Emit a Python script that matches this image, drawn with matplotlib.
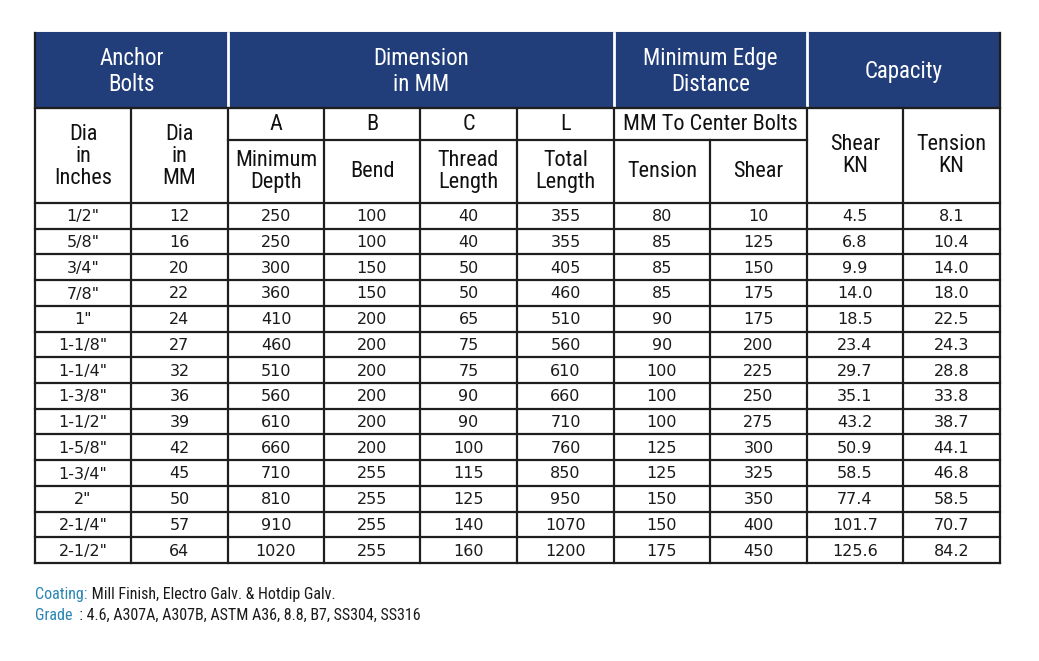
import matplotlib
matplotlib.use("Agg")
import matplotlib.pyplot as plt
from matplotlib.patches import Rectangle
from matplotlib import font_manager

# ---------------- data ----------------
dia_inches = ['1/2"', '5/8"', '3/4"', '7/8"', '1"', '1-1/8"', '1-1/4"', '1-3/8"',
              '1-1/2"', '1-5/8"', '1-3/4"', '2"', '2-1/4"', '2-1/2"']
dia_mm = [12, 16, 20, 22, 24, 27, 32, 36, 39, 42, 45, 50, 57, 64]
min_depth = [250, 250, 300, 360, 410, 460, 510, 560, 610, 660, 710, 810, 910, 1020]
bend = [100, 100, 150, 150, 200, 200, 200, 200, 200, 200, 255, 255, 255, 255]
thread_length = [40, 40, 50, 50, 65, 75, 75, 90, 90, 100, 115, 125, 140, 160]
total_length = [355, 355, 405, 460, 510, 560, 610, 660, 710, 760, 850, 950, 1070, 1200]
edge_tension = [80, 85, 85, 85, 90, 90, 100, 100, 100, 125, 125, 150, 150, 175]
edge_shear = [10, 125, 150, 175, 175, 200, 225, 250, 275, 300, 325, 350, 400, 450]
shear_kn = ["4.5", "6.8", "9.9", "14.0", "18.5", "23.4", "29.7", "35.1", "43.2",
            "50.9", "58.5", "77.4", "101.7", "125.6"]
tension_kn = ["8.1", "10.4", "14.0", "18.0", "22.5", "24.3", "28.8", "33.8", "38.7",
              "44.1", "46.8", "58.5", "70.7", "84.2"]

group_headers = ["Anchor\nBolts", "Dimension\nin MM", "Minimum Edge\nDistance", "Capacity"]
sub_letters = ["A", "B", "C", "L"]
sub_names = ["Minimum\nDepth", "Bend", "Thread\nLength", "Total\nLength"]
coating_label, coating_text = "Coating:", " Mill Finish, Electro Galv. & Hotdip Galv."
grade_label, grade_text = "Grade", "  : 4.6, A307A, A307B, ASTM A36, 8.8, B7, SS304, SS316"

# ---------------- fonts ----------------
avail = {f.name for f in font_manager.fontManager.ttflist}
cond = [f for f in ["Liberation Sans Narrow", "Roboto Condensed", "DejaVu Sans"] if f in avail]
if not cond:
    cond = ["DejaVu Sans"]
numfont = [f for f in ["DejaVu Sans", "Noto Sans"] if f in avail] or ["DejaVu Sans"]

W, H = 1039, 661
fig = plt.figure(figsize=(W / 100, H / 100), dpi=100)
ax = fig.add_axes([0, 0, 1, 1])
ax.set_xlim(0, W)
ax.set_ylim(H, 0)
ax.axis("off")

navy = "#213e7b"
line = "#1e1e1e"
ink = "#111111"
cols = [35, 131, 228, 324, 420, 517, 614, 710, 807, 903, 1000]
y_top, y_h1, y_h2a, y_h2 = 33, 108, 140, 203
n = len(dia_mm)
row_h = (563 - y_h2) / n
rows = [y_h2 + i * row_h for i in range(n + 1)]

# navy header
ax.add_patch(Rectangle((cols[0], y_top), cols[-1] - cols[0], y_h1 - y_top,
                       facecolor=navy, edgecolor=navy, lw=1.5, zorder=1))
spans = [(0, 2), (2, 6), (6, 8), (8, 10)]
for (a, b), txt in zip(spans, group_headers):
    ax.text((cols[a] + cols[b]) / 2, (y_top + y_h1) / 2 + 1, txt, color="white",
            ha="center", va="center", fontsize=16.5, family=cond,
            linespacing=1.15, zorder=3)
for a, b in spans[1:]:
    ax.plot([cols[a], cols[a]], [y_top, y_h1], color="white", lw=2, zorder=2)

lw = 1.6
def hline(x0, x1, y):
    ax.plot([x0, x1], [y, y], color=line, lw=lw, solid_capstyle="projecting", zorder=2)
def vline(x, y0, y1):
    ax.plot([x, x], [y0, y1], color=line, lw=lw, solid_capstyle="projecting", zorder=2)

hline(cols[0], cols[-1], y_h1)
for r in rows:
    hline(cols[0], cols[-1], r)
vline(cols[0], y_top, rows[-1])
vline(cols[-1], y_top, rows[-1])
for i, x in enumerate(cols[1:-1], start=1):
    if i == 7:
        vline(x, y_h2a, rows[-1])
    else:
        vline(x, y_h1, rows[-1])
hline(cols[2], cols[8], y_h2a)

# sub headers
hfs = 16
kw = dict(ha="center", va="center", fontsize=hfs, family=cond, color=ink,
          linespacing=1.08)
ax.text((cols[0] + cols[1]) / 2, (y_h1 + y_h2) / 2 + 1, "Dia\nin\nInches", **kw)
ax.text((cols[1] + cols[2]) / 2, (y_h1 + y_h2) / 2 + 1, "Dia\nin\nMM", **kw)
for k in range(4):
    xc = (cols[2 + k] + cols[3 + k]) / 2
    ax.text(xc, (y_h1 + y_h2a) / 2, sub_letters[k], **kw)
    ax.text(xc, (y_h2a + y_h2) / 2, sub_names[k], **kw)
ax.text((cols[6] + cols[8]) / 2, (y_h1 + y_h2a) / 2, "MM To Center Bolts", **kw)
ax.text((cols[6] + cols[7]) / 2, (y_h2a + y_h2) / 2, "Tension", **kw)
ax.text((cols[7] + cols[8]) / 2, (y_h2a + y_h2) / 2, "Shear", **kw)
ax.text((cols[8] + cols[9]) / 2, (y_h1 + y_h2) / 2, "Shear\nKN", **kw)
ax.text((cols[9] + cols[10]) / 2, (y_h1 + y_h2) / 2, "Tension\nKN", **kw)

# data
columns = [dia_inches, dia_mm, min_depth, bend, thread_length, total_length,
           edge_tension, edge_shear, shear_kn, tension_kn]
for c, vals in enumerate(columns):
    xc = (cols[c] + cols[c + 1]) / 2
    for r, v in enumerate(vals):
        ax.text(xc, (rows[r] + rows[r + 1]) / 2 + 1, str(v), ha="center", va="center",
                fontsize=11.5, family=numfont, color="#1a1a1a")

# footer
teal = "#2a86b4"
t1 = ax.text(cols[0], 595, coating_label, color=teal, fontsize=11.5, family=cond, va="center")
ax.annotate(coating_text, xy=(1, 0.5), xycoords=t1, va="center", ha="left",
            fontsize=11.5, family=cond, color="#1a1a1a")
t2 = ax.text(cols[0], 615, grade_label, color=teal, fontsize=11.5, family=cond, va="center")
ax.annotate(grade_text, xy=(1, 0.5), xycoords=t2, va="center", ha="left",
            fontsize=11.5, family=cond, color="#1a1a1a")

fig.savefig("out.png", dpi=100, facecolor="white")
